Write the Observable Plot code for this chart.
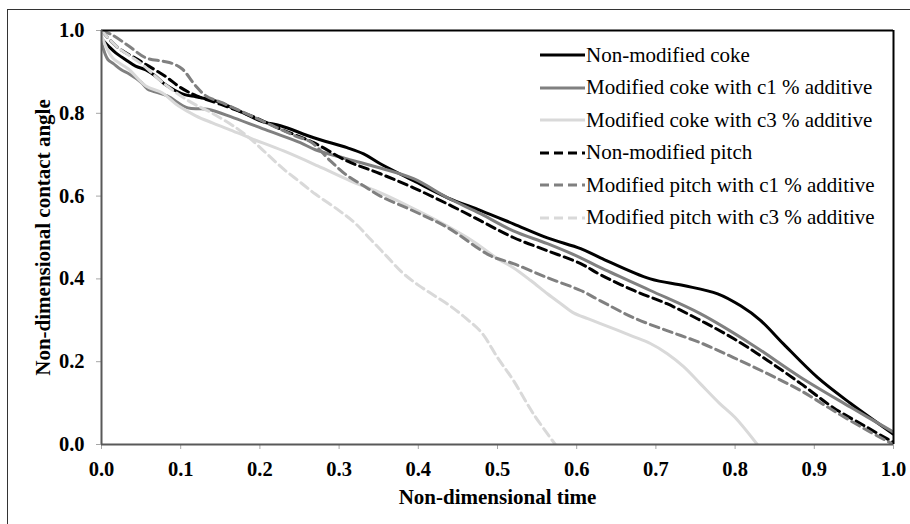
<!DOCTYPE html>
<html>
<head>
<meta charset="utf-8">
<script src="https://cdn.jsdelivr.net/npm/d3@7"></script>
<script src="https://cdn.jsdelivr.net/npm/@observablehq/plot@0.6"></script>
<style>
  body { margin: 0; background: #fff; }
  #wrap { position: relative; width: 910px; height: 524px; overflow: hidden; background: #fff;
          font-family: "Liberation Serif", "Times New Roman", serif; }
  #outer { position: absolute; left: 7px; top: 9px; width: 920px; height: 530px;
           border-left: 1.5px solid #333; border-top: 1.5px solid #333; pointer-events: none; }
  #chart { position: absolute; left: 0; top: 0; }
  #legend { position: absolute; left: 540px; top: 39px; }
  .row { display: flex; align-items: center; height: 32.5px; }
  .row svg { display: block; margin-right: 1px; }
  .row span { font-family: "Liberation Serif", "Times New Roman", serif; font-size: 21px; color: #000; white-space: nowrap; line-height: 1; }
</style>
</head>
<body>
<div id="wrap">
  <div id="chart"></div>
  <div id="outer"></div>
  <div id="legend"></div>
</div>
<script>
// ---- data ----
const seriesNames = [
  "Non-modified coke",
  "Modified coke with c1 % additive",
  "Modified coke with c3 % additive",
  "Non-modified pitch",
  "Modified pitch with c1 % additive",
  "Modified pitch with c3 % additive"
];

const cokeT = [0, 0.01, 0.018, 0.03, 0.043, 0.056, 0.068, 0.08, 0.093, 0.105, 0.119, 0.132, 0.144, 0.169, 0.203, 0.226, 0.268, 0.31, 0.331, 0.352, 0.394, 0.437, 0.479, 0.52, 0.563, 0.605, 0.63, 0.693, 0.735, 0.778, 0.807, 0.832, 0.861, 0.904, 0.946, 1.0];
const cokeV = [0.98, 0.96, 0.946, 0.93, 0.914, 0.905, 0.89, 0.87, 0.855, 0.845, 0.84, 0.835, 0.83, 0.81, 0.78, 0.77, 0.741, 0.717, 0.702, 0.678, 0.637, 0.596, 0.565, 0.533, 0.499, 0.473, 0.451, 0.40, 0.384, 0.364, 0.335, 0.30, 0.243, 0.162, 0.099, 0.025];

const cokeC1T = [0, 0.008, 0.015, 0.025, 0.035, 0.05, 0.058, 0.083, 0.109, 0.134, 0.167, 0.21, 0.251, 0.27, 0.31, 0.352, 0.394, 0.437, 0.479, 0.52, 0.563, 0.605, 0.63, 0.693, 0.756, 0.82, 0.883, 0.946, 1.0];
const cokeC1V = [0.97, 0.93, 0.92, 0.905, 0.895, 0.875, 0.859, 0.842, 0.813, 0.81, 0.789, 0.758, 0.729, 0.712, 0.69, 0.668, 0.642, 0.596, 0.557, 0.516, 0.485, 0.451, 0.427, 0.372, 0.316, 0.243, 0.162, 0.09, 0.03];

const cokeC3T = [0, 0.014, 0.034, 0.056, 0.077, 0.097, 0.119, 0.14, 0.16, 0.188, 0.23, 0.273, 0.314, 0.356, 0.399, 0.44, 0.47, 0.5, 0.52, 0.542, 0.563, 0.58, 0.596, 0.614, 0.63, 0.67, 0.693, 0.714, 0.735, 0.756, 0.78, 0.80, 0.828];
const cokeC3V = [0.987, 0.934, 0.907, 0.866, 0.849, 0.818, 0.794, 0.777, 0.762, 0.74, 0.709, 0.673, 0.637, 0.605, 0.565, 0.524, 0.49, 0.449, 0.427, 0.396, 0.364, 0.34, 0.318, 0.304, 0.292, 0.262, 0.244, 0.22, 0.188, 0.147, 0.10, 0.065, 0.0];

const pitchT = [0, 0.02, 0.05, 0.08, 0.1, 0.12, 0.15, 0.2, 0.226, 0.268, 0.31, 0.352, 0.394, 0.437, 0.479, 0.52, 0.563, 0.605, 0.63, 0.672, 0.714, 0.756, 0.798, 0.841, 0.883, 0.924, 0.967, 1.0];
const pitchV = [1.0, 0.96, 0.925, 0.89, 0.862, 0.842, 0.822, 0.785, 0.762, 0.729, 0.685, 0.654, 0.62, 0.581, 0.54, 0.50, 0.468, 0.437, 0.41, 0.372, 0.34, 0.30, 0.256, 0.203, 0.147, 0.089, 0.041, 0.005];

const pitchC1T = [0, 0.013, 0.034, 0.056, 0.077, 0.09, 0.102, 0.119, 0.132, 0.153, 0.182, 0.216, 0.245, 0.265, 0.289, 0.31, 0.331, 0.352, 0.394, 0.437, 0.491, 0.52, 0.563, 0.605, 0.63, 0.672, 0.714, 0.756, 0.798, 0.841, 0.883, 0.924, 0.967, 1.0];
const pitchC1V = [1.0, 0.99, 0.963, 0.934, 0.926, 0.92, 0.907, 0.866, 0.842, 0.825, 0.80, 0.77, 0.745, 0.73, 0.685, 0.65, 0.625, 0.60, 0.564, 0.524, 0.456, 0.437, 0.403, 0.372, 0.347, 0.306, 0.275, 0.246, 0.21, 0.171, 0.13, 0.082, 0.034, 0.0];

const pitchC3T = [0, 0.02, 0.05, 0.08, 0.11, 0.14, 0.17, 0.19, 0.21, 0.23, 0.25, 0.27, 0.30, 0.32, 0.34, 0.36, 0.38, 0.40, 0.42, 0.44, 0.46, 0.48, 0.50, 0.52, 0.545, 0.573];
const pitchC3V = [1.0, 0.96, 0.92, 0.87, 0.83, 0.80, 0.765, 0.735, 0.70, 0.665, 0.635, 0.605, 0.565, 0.535, 0.495, 0.455, 0.415, 0.385, 0.36, 0.335, 0.305, 0.27, 0.21, 0.155, 0.075, 0.0];

const xTicks = [0, 0.1, 0.2, 0.3, 0.4, 0.5, 0.6, 0.7, 0.8, 0.9, 1.0];
const yTicks = [0, 0.2, 0.4, 0.6, 0.8, 1.0];
const xTitle = "Non-dimensional time";
const yTitle = "Non-dimensional contact angle";

// ---- styles (separate from data) ----
const seriesData = [[cokeT, cokeV], [cokeC1T, cokeC1V], [cokeC3T, cokeC3V], [pitchT, pitchV], [pitchC1T, pitchC1V], [pitchC3T, pitchC3V]];
const colors = ["#000000", "#808080", "#d9d9d9", "#000000", "#808080", "#d9d9d9"];
const dashes = [null, null, null, "9,5", "9,5", "9,5"];

const tables = seriesData.map(([ts, vs], i) => ts.map((t, j) => ({t, v: vs[j], name: seriesNames[i]})));

const lineMarks = tables.map((tbl, i) => Plot.line(tbl, {
  x: "t", y: "v",
  stroke: colors[i],
  strokeWidth: 3,
  strokeDasharray: dashes[i] || undefined,
  curve: "catmull-rom",
  clip: true
}));

const fontTick = 20.5;
const chart = Plot.plot({
  width: 910,
  height: 524,
  marginLeft: 101,
  marginRight: 17,
  marginTop: 30,
  marginBottom: 80,
  style: { fontFamily: "'Liberation Serif', 'Times New Roman', serif", fontSize: fontTick + "px", fontWeight: "bold", color: "#000", background: "#fff", overflow: "visible" },
  x: { domain: [0, 1] },
  y: { domain: [0, 1] },
  marks: [
    Plot.axisX({ ticks: xTicks, tickSize: 5, tickPadding: 12, tickFormat: d3.format(".1f"), stroke: "#a6a6a6", fill: "#000", label: null }),
    Plot.axisY({ ticks: yTicks, tickSize: 5, tickPadding: 12, tickFormat: d3.format(".1f"), stroke: "#a6a6a6", fill: "#000", label: null }),
    ...lineMarks,
    Plot.ruleY([1], { stroke: "#000", strokeWidth: 2 }),
    Plot.ruleX([1], { stroke: "#000", strokeWidth: 2 }),
    Plot.ruleY([0], { stroke: "#595959", strokeWidth: 2 }),
    Plot.ruleX([0], { stroke: "#595959", strokeWidth: 2 }),
    Plot.text([xTitle], { frameAnchor: "bottom", dy: 53, lineAnchor: "middle", textAnchor: "middle", text: d => d, fontSize: 21, fontWeight: "bold", fill: "#000" }),
    Plot.text([yTitle], { frameAnchor: "left", dx: -58, rotate: -90, lineAnchor: "middle", textAnchor: "middle", text: d => d, fontSize: 21, fontWeight: "bold", fill: "#000" })
  ]
});
document.getElementById("chart").appendChild(chart);

// ---- legend ----
const legend = document.getElementById("legend");
seriesNames.forEach((name, i) => {
  const row = document.createElement("div");
  row.className = "row";
  const ns = "http://www.w3.org/2000/svg";
  const sw = document.createElementNS(ns, "svg");
  sw.setAttribute("width", 45);
  sw.setAttribute("height", 6);
  const ln = document.createElementNS(ns, "line");
  ln.setAttribute("x1", 0); ln.setAttribute("x2", 45);
  ln.setAttribute("y1", 3); ln.setAttribute("y2", 3);
  ln.setAttribute("stroke", colors[i]);
  ln.setAttribute("stroke-width", 3);
  if (dashes[i]) ln.setAttribute("stroke-dasharray", dashes[i]);
  sw.appendChild(ln);
  const sp = document.createElement("span");
  sp.textContent = name;
  row.appendChild(sw);
  row.appendChild(sp);
  legend.appendChild(row);
});
</script>
</body>
</html>
